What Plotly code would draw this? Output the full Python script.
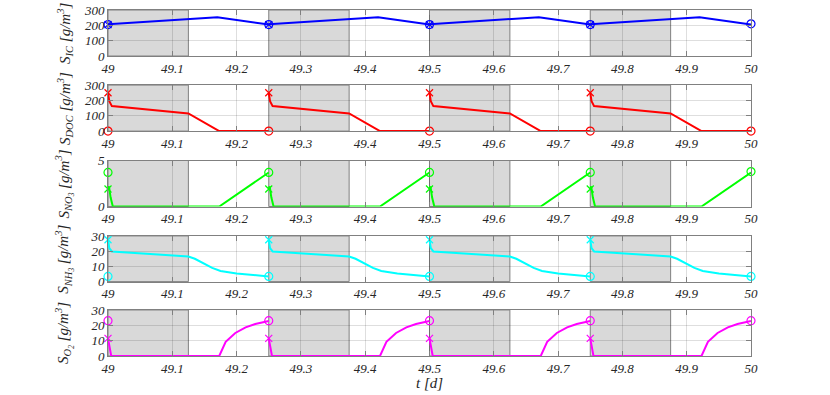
import plotly.graph_objects as go

# cycle starts (d) and period markers
cycle_starts = [49.0, 49.25, 49.5, 49.75]
circle_times = [49.0, 49.25, 49.5, 49.75, 50.0]
gray_periods = [(49.0, 49.125), (49.25, 49.375), (49.5, 49.625), (49.75, 49.875)]

# S_IC
ic_t = [0, 0.125, 0.17, 0.25]
ic_v = [207, 240, 253, 205]
ic_x = 205
ic_o = [205, 205, 205, 205, 210]

# S_DOC
doc_t = [0, 0.002, 0.006, 0.125, 0.173, 0.25]
doc_v = [250, 195, 163, 115, 0, 0]
doc_x = 250
doc_o = [0, 0, 0, 0, 0]

# S_NO3
no3_t = [0, 0.0015, 0.004, 0.0075, 0.173, 0.25]
no3_v = [1.9, 2.2, 1.0, 0, 0, 3.7]
no3_x = 1.9
no3_o = [3.7, 3.7, 3.7, 3.7, 3.8]

# S_NH3
nh_t = [0, 0.002, 0.006, 0.125, 0.135, 0.148, 0.162, 0.175, 0.2, 0.25]
nh_v = [27.5, 22, 19.8, 16.5, 15, 12, 9, 7, 5.3, 3.4]
nh_x = 27.5
nh_o = [3.4, 3.4, 3.4, 3.4, 3.4]

# S_O2
o2_t = [0, 0.005, 0.173, 0.183, 0.198, 0.214, 0.229, 0.25]
o2_v = [11.5, 0, 0, 9.3, 15, 18.7, 20.9, 22.8]
o2_x = 11.5
o2_o = [23, 23, 23, 23, 23]

panels = [
    ("S<sub>IC</sub> [g/m<sup>3</sup>]", "#0000ff", ic_t, ic_v, ic_x, ic_o, [0, 300], [0, 100, 200, 300]),
    ("S<sub>DOC</sub> [g/m<sup>3</sup>]", "#ff0000", doc_t, doc_v, doc_x, doc_o, [0, 300], [0, 100, 200, 300]),
    ("S<sub>NO<sub>3</sub></sub> [g/m<sup>3</sup>]", "#00ff00", no3_t, no3_v, no3_x, no3_o, [0, 5], [0, 5]),
    ("S<sub>NH<sub>3</sub></sub> [g/m<sup>3</sup>]", "#00ffff", nh_t, nh_v, nh_x, nh_o, [0, 30], [0, 10, 20, 30]),
    ("S<sub>O<sub>2</sub></sub> [g/m<sup>3</sup>]", "#ff00ff", o2_t, o2_v, o2_x, o2_o, [0, 30], [0, 10, 20, 30]),
]

domains = [[0.867, 1.0], [0.650, 0.783], [0.432, 0.565], [0.215, 0.347], [0.0, 0.133]]

serif = '"Liberation Serif", "Times New Roman", Times, serif'
font = dict(family=serif, size=13, color="#262626", style="italic")
title_font = dict(family=serif, size=15, color="#262626", style="italic")

fig = go.Figure()
layout = dict(width=830, height=395, plot_bgcolor="white", paper_bgcolor="white",
              margin=dict(l=108, r=79, t=10, b=39, autoexpand=False), showlegend=False, font=font)

shapes = []
annotations = []
for i, (label, color, tr, vr, xv, ov, yr, yt) in enumerate(panels):
    n = i + 1
    xa = "x" if n == 1 else "x%d" % n
    ya = "y" if n == 1 else "y%d" % n
    for t0 in cycle_starts:
        fig.add_trace(go.Scatter(x=[t0 + t for t in tr], y=vr, mode="lines",
                                 line=dict(color=color, width=2), xaxis=xa, yaxis=ya))
    fig.add_trace(go.Scatter(x=circle_times, y=ov, mode="markers",
                             marker=dict(symbol="circle-open", size=8, color=color, line=dict(width=1.2)),
                             xaxis=xa, yaxis=ya, cliponaxis=False))
    fig.add_trace(go.Scatter(x=cycle_starts, y=[xv] * len(cycle_starts), mode="markers",
                             marker=dict(symbol="x-thin-open", size=7, color=color, line=dict(width=1.2, color=color)),
                             xaxis=xa, yaxis=ya, cliponaxis=False))
    axis_common = dict(showline=True, linecolor="#808080", linewidth=1, mirror="ticks",
                       ticks="inside", ticklen=5, tickcolor="#808080",
                       showgrid=True, gridcolor="rgba(0,0,0,0.13)", zeroline=False,
                       tickfont=font, automargin=False, ticklabeloverflow="allow")
    layout["xaxis" if n == 1 else "xaxis%d" % n] = dict(
        anchor=ya, domain=[0, 1], range=[49, 50], dtick=0.1, tick0=49, **axis_common)
    layout["yaxis" if n == 1 else "yaxis%d" % n] = dict(
        anchor=xa, domain=domains[i], range=yr, tickvals=yt, **axis_common)
    for a, b in gray_periods:
        shapes.append(dict(type="rect", xref=xa, yref=ya + " domain", x0=a, x1=b, y0=0, y1=1,
                           fillcolor="#d9d9d9", line=dict(color="#808080", width=1), layer="below"))
    annotations.append(dict(text=label, xref="paper", yref="paper", x=-0.067,
                            y=sum(domains[i]) / 2, textangle=-90, showarrow=False,
                            xanchor="center", yanchor="middle", font=title_font))

annotations.append(dict(text="t [d]", xref="paper", yref="paper", x=0.5, y=-0.078,
                        showarrow=False, xanchor="center", yanchor="middle", font=title_font))

layout["shapes"] = shapes
layout["annotations"] = annotations
fig.update_layout(**layout)
fig.write_html("out.html", config={"displayModeBar": False},
               post_script="document.body.style.margin='0px';")
